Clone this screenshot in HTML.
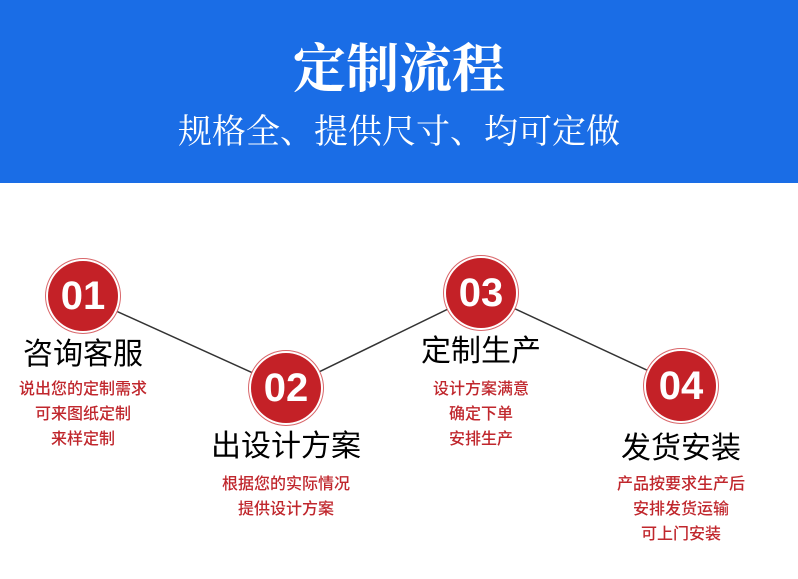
<!DOCTYPE html>
<html><head><meta charset="utf-8"><style>
body{margin:0;width:798px;height:579px;background:#fff;position:relative;overflow:hidden;font-family:"Liberation Sans","Noto Sans CJK SC",sans-serif}
.hd{position:absolute;left:0;top:0;width:798px;height:183px;background:#1a6de6}
.t{position:absolute;left:0;width:798px;text-align:center;color:#fff}
.c{position:absolute;width:70px;height:70px;border-radius:50%;background:#c42127;box-shadow:0 0 0 2px #fff,0 0 0 3px #d9666a;color:#fff;font:bold 40px/70px "Liberation Sans",sans-serif;text-align:center}
.h{position:absolute;width:240px;text-align:center;font-size:30px;line-height:36px;color:#000}
.r{position:absolute;width:240px;text-align:center;font-size:16px;line-height:25px;color:#c0272d;font-weight:500}
</style></head><body>
<div class="hd"></div>
<div class="t" style="top:34px;font-size:53px;line-height:62px;font-weight:bold;font-family:'Noto Serif CJK SC',serif">定制流程</div>
<div class="t" style="top:108px;font-size:34px;line-height:42px;font-family:'Noto Serif CJK SC',serif">规格全、提供尺寸、均可定做</div>
<svg style="position:absolute;left:0;top:0" width="798" height="579"><polyline points="83,296 286,388 481,293 681,386" fill="none" stroke="#333" stroke-width="1.5"/></svg>
<div class="c" style="left:48px;top:261px">01</div>
<div class="c" style="left:251px;top:353px">02</div>
<div class="c" style="left:446px;top:258px">03</div>
<div class="c" style="left:646px;top:351px">04</div>
<div class="h" style="left:-37px;top:337px">咨询客服</div>
<div class="r" style="left:-37px;top:377px">说出您的定制需求<br>可来图纸定制<br>来样定制</div>
<div class="h" style="left:166px;top:429px">出设计方案</div>
<div class="r" style="left:166px;top:472px">根据您的实际情况<br>提供设计方案</div>
<div class="h" style="left:361px;top:334px">定制生产</div>
<div class="r" style="left:361px;top:377px">设计方案满意<br>确定下单<br>安排生产</div>
<div class="h" style="left:561px;top:431px">发货安装</div>
<div class="r" style="left:561px;top:472px">产品按要求生产后<br>安排发货运输<br>可上门安装</div>
</body></html>
